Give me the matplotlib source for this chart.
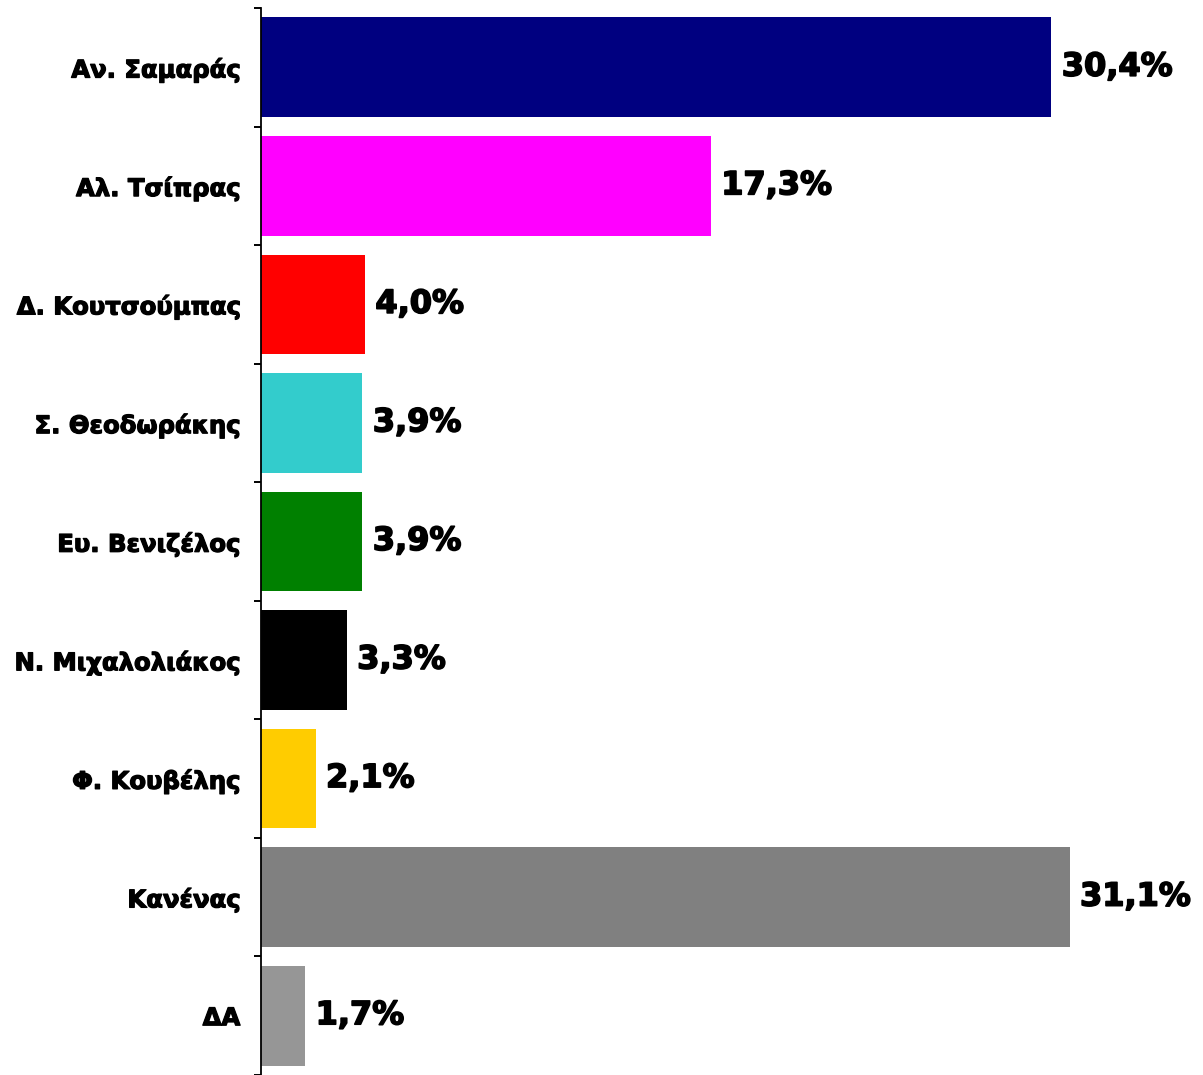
import matplotlib
matplotlib.use("Agg")
import matplotlib.pyplot as plt
import matplotlib.patheffects as pe
import numpy as np

categories = ["Αν. Σαμαράς", "Αλ. Τσίπρας", "Δ. Κουτσούμπας", "Σ. Θεοδωράκης",
              "Ευ. Βενιζέλος", "Ν. Μιχαλολιάκος", "Φ. Κουβέλης", "Κανένας", "ΔΑ"]
values = [30.4, 17.3, 4.0, 3.9, 3.9, 3.3, 2.1, 31.1, 1.7]
value_labels = ["30,4%", "17,3%", "4,0%", "3,9%", "3,9%", "3,3%", "2,1%", "31,1%", "1,7%"]
colors = ["#000080", "#FF00FF", "#FF0000", "#33CCCC", "#008000", "#000000",
          "#FFCC00", "#808080", "#969696"]

plt.rcParams['font.family'] = ['DejaVu Sans']
fig = plt.figure(figsize=(12.03, 10.75), dpi=100)
ax = fig.add_axes([261/1203, 0.0, 1 - 261/1203, 1 - 8/1075])

y = np.arange(len(categories))
ax.barh(y, values, height=0.84, color=colors)
ax.set_ylim(len(categories) - 0.5, -0.5)
ax.set_xlim(0, (1203 - 261) / 26.0)

ax.set_yticks(y)
ax.set_yticklabels(categories, fontsize=17.5, fontweight='bold')
ax.tick_params(axis='y', which='major', length=0, pad=15)
ax.set_yticks(np.arange(-0.5, len(categories) + 0.5, 1), minor=True)
ax.tick_params(axis='y', which='minor', length=5, width=1.4, direction='out')
ax.set_xticks([])
stroke = [pe.withStroke(linewidth=0.9, foreground='black')]
for t in ax.get_yticklabels():
    t.set_path_effects(stroke)

for s in ['top', 'right', 'bottom']:
    ax.spines[s].set_visible(False)
ax.spines['left'].set_linewidth(1.3)

for yi, v, lab in zip(y, values, value_labels):
    ax.annotate(lab, xy=(v, yi), xytext=(7.5, 0), textcoords='offset points',
                ha='left', va='center', fontsize=23, fontweight='bold',
                path_effects=[pe.withStroke(linewidth=1.2, foreground='black')])

fig.savefig("out.png", dpi=100)
